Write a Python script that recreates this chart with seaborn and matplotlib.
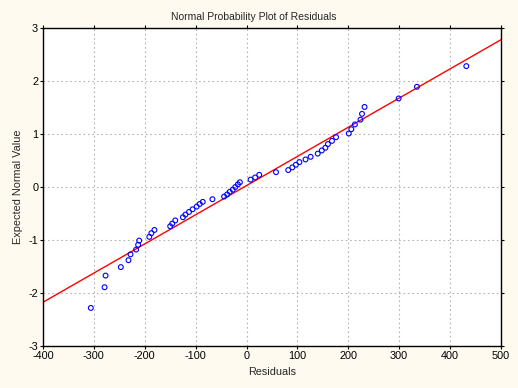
"""
Normal probability plot of residuals, redrawn with seaborn.
"""

import numpy as np
import pandas as pd
import seaborn as sns
import matplotlib.pyplot as plt

output_file = "out.png"

# Residuals (x) and their expected normal values (y)
residuals = [
    -306, -279, -277, -247, -232, -228, -217, -213, -211, -191,
    -187, -181, -150, -146, -140, -125, -120, -113, -106, -98,
    -92, -86, -67, -44, -38, -33, -27, -22, -17, -13,
    8, 17, 25, 58, 82, 90, 97, 104, 116, 126,
    140, 148, 155, 160, 168, 176, 201, 206, 213, 224,
    227, 232, 299, 335, 432,
]
expected_normal = [
    -2.28, -1.89, -1.67, -1.51, -1.38, -1.27, -1.18, -1.09, -1.01, -0.94,
    -0.87, -0.81, -0.74, -0.69, -0.63, -0.57, -0.52, -0.47, -0.42, -0.37,
    -0.32, -0.28, -0.23, -0.18, -0.14, -0.09, -0.05, 0.00, 0.05, 0.09,
    0.14, 0.18, 0.23, 0.28, 0.32, 0.37, 0.42, 0.47, 0.52, 0.57,
    0.63, 0.69, 0.74, 0.81, 0.87, 0.94, 1.01, 1.09, 1.18, 1.27,
    1.38, 1.51, 1.67, 1.89, 2.28,
]

# Reference (fitted normal) line
line_intercept = 0.027
line_slope = 0.0055

x_ticks = [-400, -300, -200, -100, 0, 100, 200, 300, 400, 500]
y_ticks = [-3, -2, -1, 0, 1, 2, 3]

df = pd.DataFrame({"Residuals": residuals, "Expected": expected_normal})

sns.set_theme(style="white")
plt.rcParams["font.family"] = ["Liberation Sans", "DejaVu Sans"]
plt.rcParams["axes.unicode_minus"] = False

fig = plt.figure(figsize=(5.18, 3.88), dpi=100, facecolor="#fffaf0")
ax = fig.add_axes([0.083, 0.108, 0.884, 0.820])
ax.set_facecolor("white")

ax.axline((0, line_intercept), slope=line_slope, color="#ff0000", lw=1.0, zorder=2)

sns.scatterplot(data=df, x="Residuals", y="Expected", ax=ax, marker="o", s=12,
                facecolors="none", edgecolor="#0000ff", linewidth=0.8, zorder=3)

ax.set_xlim(-400, 500)
ax.set_ylim(-3, 3)
ax.set_xticks(x_ticks)
ax.set_yticks(y_ticks)
ax.grid(True, color="#b4b4b4", linestyle=(0, (1.5, 2.5)), linewidth=0.8)

for s in ax.spines.values():
    s.set_color("black")
    s.set_linewidth(1.0)

ax.tick_params(axis="both", direction="out", length=2, width=0.8, colors="black",
               labelsize=7.8, pad=1.5)
ax.tick_params(top=True, right=True, bottom=True, left=True)

fig.text(0.49, 0.955, "Normal Probability Plot of Residuals", fontsize=7.5,
         ha="center", va="center")
ax.set_xlabel("Residuals", fontsize=7.8, labelpad=4)
ax.set_ylabel("Expected Normal Value", fontsize=7.8, labelpad=4)

plt.savefig(output_file, dpi=100, facecolor=fig.get_facecolor())
plt.close()
